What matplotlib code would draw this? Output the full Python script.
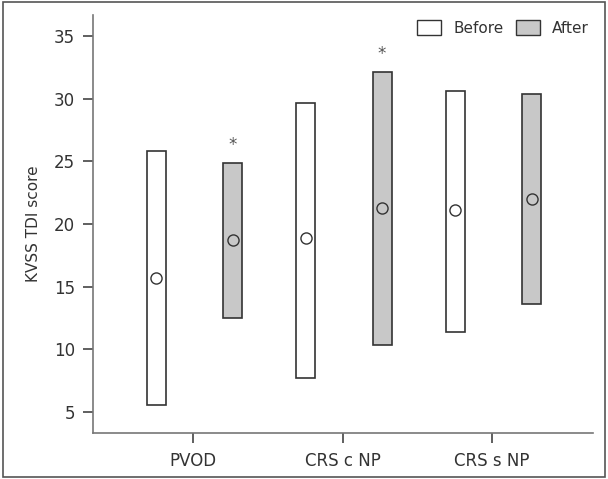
import matplotlib
matplotlib.use("Agg")
import matplotlib.pyplot as plt
from matplotlib.patches import Rectangle, Patch

categories = ["PVOD", "CRS c NP", "CRS s NP"]
before_low = [5.5, 7.7, 11.4]
before_high = [25.85, 29.7, 30.65]
before_median = [15.7, 18.85, 21.1]
after_low = [12.45, 10.35, 13.6]
after_high = [24.9, 32.15, 30.4]
after_median = [18.75, 21.3, 22.0]
star_after = [26.3, 33.6, None]

plt.rcParams['font.family'] = ['DejaVu Sans']

fig = plt.figure(figsize=(6.08, 4.79), dpi=100)
ax = fig.add_axes([93/608, 46/479, 500/608, 418/479])

xs = [1, 2, 3]
w = 0.127
off_b, off_a = -0.245, 0.265
edge = '#333333'
xb = [x + off_b for x in xs]
xa = [x + off_a for x in xs]
ax.bar(xb, [h - l for h, l in zip(before_high, before_low)], bottom=before_low,
       width=w, color='white', edgecolor=edge, linewidth=1.2, zorder=2)
ax.bar(xa, [h - l for h, l in zip(after_high, after_low)], bottom=after_low,
       width=w, color='#c8c8c8', edgecolor=edge, linewidth=1.2, zorder=2)
ax.plot(xb, before_median, 'o', ms=8, mfc='white', mec=edge, mew=1.0, zorder=3)
ax.plot(xa, after_median, 'o', ms=8, mfc='#c8c8c8', mec=edge, mew=1.0, zorder=3)
for x, s in zip(xa, star_after):
    if s is not None:
        ax.text(x, s, '*', ha='center', va='center', fontsize=12, color='#555555')

ax.set_xlim(1 - 100/149.5, 3 + 101/149.5)
ax.set_ylim(3.3, 36.7)
ax.set_yticks([5, 10, 15, 20, 25, 30, 35])
ax.set_xticks(xs)
ax.set_xticklabels(categories)
ax.set_ylabel('KVSS TDI score', fontsize=11, color='#333333', labelpad=9)
for s in ['top', 'right']:
    ax.spines[s].set_visible(False)
for s in ['left', 'bottom']:
    ax.spines[s].set_color('#777777')
    ax.spines[s].set_linewidth(1.2)
ax.tick_params(axis='both', length=7, width=1.2, color='#444444',
               labelsize=12, labelcolor='#333333')
ax.tick_params(axis='y', pad=6)
ax.tick_params(axis='x', pad=7)

handles = [Patch(facecolor='white', edgecolor=edge, label='Before'),
           Patch(facecolor='#c8c8c8', edgecolor=edge, label='After')]
leg = ax.legend(handles=handles, loc='upper right', ncol=2, frameon=False,
                fontsize=11, handlelength=1.6, handleheight=1.1,
                columnspacing=0.8, handletextpad=0.8,
                bbox_to_anchor=(1.02, 1.02))
for t in leg.get_texts():
    t.set_color('#333333')

fig.patches.append(Rectangle((3/608, 2/479), 602/608, 475/479, transform=fig.transFigure,
                             fill=False, edgecolor='#555555', linewidth=1.2))

fig.savefig('out.png', dpi=100)
